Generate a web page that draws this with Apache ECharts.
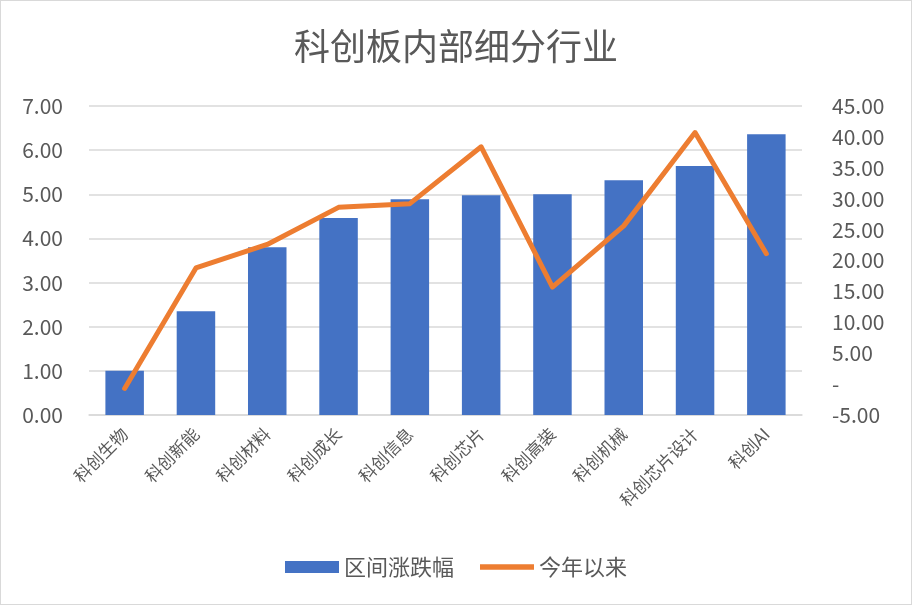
<!DOCTYPE html>
<html>
<head>
<meta charset="utf-8">
<script src="https://cdn.jsdelivr.net/npm/echarts@6/dist/echarts.min.js"></script>
<style>
html,body{margin:0;padding:0;background:#fff;}
#c{width:910px;height:603px;border:1px solid #d9d9d9;}
</style>
</head>
<body>
<div id="c"></div>
<script>
const categories = ['科创生物','科创新能','科创材料','科创成长','科创信息','科创芯片','科创高装','科创机械','科创芯片设计','科创AI'];
const rangeChange = [1.00, 2.35, 3.80, 4.46, 4.89, 4.98, 5.00, 5.32, 5.64, 6.36];
const ytdChange = [-0.7, 18.8, 22.6, 28.6, 29.2, 38.4, 15.7, 25.6, 40.7, 21.1];
const seriesNames = ['区间涨跌幅', '今年以来'];
const titleText = '科创板内部细分行业';

const font = '"Noto Sans CJK SC", "Noto Sans", sans-serif';
const chart = echarts.init(document.getElementById('c'));
chart.setOption({
  animation: false,
  title: {
    text: titleText, left: 'center', top: 22,
    textStyle: { fontFamily: font, fontSize: 36, fontWeight: 'normal', color: '#595959' }
  },
  legend: {
    top: 550, left: 'center', itemGap: 26, itemWidth: 54, itemHeight: 12,
    textStyle: { fontFamily: font, fontSize: 22, color: '#595959' },
    data: [
      { name: seriesNames[0], icon: 'rect' },
      { name: seriesNames[1], icon: 'path://M0,0L100,0L100,10L0,10Z' }
    ]
  },
  grid: { left: 88, right: 109, top: 105, bottom: 189 },
  xAxis: {
    type: 'category', data: categories,
    axisLine: { lineStyle: { color: '#d9d9d9', width: 1.5 } },
    axisTick: { show: false },
    axisLabel: { rotate: 45, interval: 0, fontFamily: font, fontSize: 17, color: '#595959', margin: 16 }
  },
  yAxis: [
    {
      type: 'value', min: 0, max: 7, interval: 1,
      axisLine: { show: false }, axisTick: { show: false },
      splitLine: { lineStyle: { color: '#d9d9d9', width: 1.5 } },
      axisLabel: { fontFamily: font, fontSize: 21, color: '#595959', margin: 26,
        formatter: v => v.toFixed(2) }
    },
    {
      type: 'value', min: -5, max: 45, interval: 5,
      axisLine: { show: false }, axisTick: { show: false },
      splitLine: { show: false },
      axisLabel: { fontFamily: font, fontSize: 21, color: '#595959', margin: 30,
        formatter: v => v === 0 ? '-' : v.toFixed(2) }
    }
  ],
  series: [
    {
      name: seriesNames[0], type: 'bar', data: rangeChange, yAxisIndex: 0,
      barWidth: '54%', itemStyle: { color: '#4472c4' }
    },
    {
      name: seriesNames[1], type: 'line', data: ytdChange, yAxisIndex: 1,
      symbol: 'none', lineStyle: { color: '#ed7d31', width: 5, cap: 'round', join: 'round' },
      itemStyle: { color: '#ed7d31' }
    }
  ]
});
</script>
</body>
</html>
